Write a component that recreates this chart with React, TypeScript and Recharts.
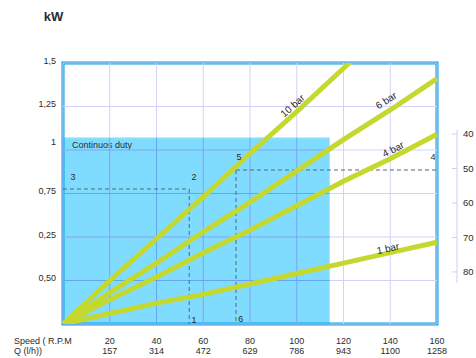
import {
  LineChart,
  Line,
  XAxis,
  YAxis,
  ReferenceArea,
  ReferenceLine,
  ReferenceDot,
  Label,
} from "recharts";

// pump speed (rpm) and the matching flow rate (l/h)
const rpm = [0, 20, 40, 60, 80, 100, 120, 140, 160];
const flowLh = [0, 157, 314, 472, 629, 786, 943, 1100, 1258];

// absorbed power (kW) per discharge pressure
const kw10bar = [0, 0.25, 0.49, 0.73, 0.98, 1.22, 1.47, 1.72, 1.97];
const kw6bar = [0, 0.18, 0.35, 0.53, 0.7, 0.88, 1.06, 1.23, 1.41];
const kw4bar = [0, 0.14, 0.27, 0.41, 0.54, 0.68, 0.82, 0.95, 1.09];
const kw1bar = [0, 0.06, 0.12, 0.17, 0.23, 0.29, 0.35, 0.41, 0.47];

const kwTicks = [0, 0.25, 0.5, 0.75, 1, 1.25, 1.5];
const kwTickLabels = ["", "0,50", "0,25", "0,75", "1", "1,25", "1,5"];
const rpmTicks = [20, 40, 60, 80, 100, 120, 140, 160];
const rightTicks = [40, 50, 60, 70, 80];

// continuous duty limit and the two worked examples
const dutyLimit = { rpm: 114, kw: 1.07 };
const exampleA = { rpm: 54, kw: 0.776 };
const exampleB = { rpm: 74, kw: 0.885 };

const pointLabels = [
  { text: "3", rpm: 4.3, kw: 0.845 },
  { text: "2", rpm: 56, kw: 0.845 },
  { text: "1", rpm: 56, kw: 0.025 },
  { text: "5", rpm: 75.3, kw: 0.96 },
  { text: "4", rpm: 158.3, kw: 0.96 },
  { text: "6", rpm: 76, kw: 0.03 },
];

const seriesLabels = [
  { text: "10 bar", rpm: 98.2, kw: 1.255, angle: -42 },
  { text: "6 bar", rpm: 138.2, kw: 1.285, angle: -33 },
  { text: "4 bar", rpm: 141.2, kw: 1.005, angle: -27 },
  { text: "1 bar", rpm: 139, kw: 0.435, angle: -12 },
];

const data = rpm.map((r, i) => ({
  rpm: r,
  b10: kw10bar[i],
  b6: kw6bar[i],
  b4: kw4bar[i],
  b1: kw1bar[i],
}));

const TEXT = "#2b2b2b";
const GRID = "#d2d2fa";
const GRID_ON_DUTY = "#62a6f2";
const DUTY = "#80dcff";
const CURVE = "#c4d82e";
const DASH = "#55677a";

function LeftTick({ x, y, payload }: any) {
  const label = kwTickLabels[kwTicks.indexOf(payload.value)];
  const shift = payload.value === 1 ? -8 : -2.5;
  return (
    <text x={x} y={y + shift} dy="0.35em" textAnchor="end" fontSize={9} fill={TEXT}>
      {label}
    </text>
  );
}

function BottomTick({ x, y, payload }: any) {
  const q = flowLh[rpm.indexOf(payload.value)];
  return (
    <g fontSize={9} fill={TEXT} textAnchor="middle">
      <text x={x} y={y + 20}>{payload.value}</text>
      <text x={x} y={y + 30}>{q}</text>
    </g>
  );
}

function RightTick({ x, y, payload, index }: any) {
  const axisX = x + 20;
  const top = index === 0 ? y - 4 : y - 17.3;
  const bottom = index === rightTicks.length - 1 ? y + 11 : y + 17.3;
  return (
    <g>
      <line x1={axisX} x2={axisX} y1={top} y2={bottom} stroke="#cfcff3" />
      <line x1={axisX - 5} x2={axisX} y1={y} y2={y} stroke="#cfcff3" />
      <text x={axisX + 6} y={y} dy="0.35em" fontSize={9.5} fill={TEXT}>
        {payload.value}
      </text>
    </g>
  );
}

export default function App() {
  const gridX = [0, ...rpmTicks];
  return (
    <div
      style={{
        position: "absolute",
        left: 0,
        top: 0,
        width: 476,
        height: 358,
        background: "#fff",
        fontFamily: "'Liberation Sans', Arial, sans-serif",
      }}
    >
      <LineChart
        width={476}
        height={358}
        data={data}
        margin={{ top: 63, right: 0, bottom: 0, left: 0 }}
      >
        <XAxis
          dataKey="rpm"
          type="number"
          domain={[0, 160]}
          ticks={rpmTicks}
          height={34}
          axisLine={false}
          tickLine={false}
          tickSize={0}
          tickMargin={0}
          tick={<BottomTick />}
          interval={0}
        />
        <YAxis
          type="number"
          domain={[0, 1.5]}
          allowDataOverflow
          ticks={kwTicks}
          width={63}
          axisLine={false}
          tickLine={false}
          tickSize={0}
          tickMargin={7}
          tick={<LeftTick />}
          interval={0}
        />
        <YAxis
          yAxisId="right"
          orientation="right"
          type="number"
          domain={[19.4, 95.1]}
          reversed
          allowDataOverflow
          ticks={rightTicks}
          width={39}
          axisLine={false}
          tickLine={false}
          tickSize={0}
          tickMargin={0}
          tick={<RightTick />}
          interval={0}
        />

        <ReferenceArea
          x1={0}
          x2={dutyLimit.rpm}
          y1={0}
          y2={dutyLimit.kw}
          fill={DUTY}
          fillOpacity={1}
          stroke="#a6e8ff"
          strokeWidth={1}
        >
          <Label
            content={({ viewBox }: any) => (
              <text x={viewBox.x + 9} y={viewBox.y + 10.5} fontSize={9} fill={TEXT}>
                Continuos duty
              </text>
            )}
          />
        </ReferenceArea>

        {gridX.map((v) => (
          <ReferenceLine key={"gx" + v} x={v} stroke={GRID} strokeWidth={1} />
        ))}
        {kwTicks.map((v) => (
          <ReferenceLine key={"gy" + v} y={v} stroke={GRID} strokeWidth={1} />
        ))}
        {/* grid shows darker where it crosses the duty area */}
        {gridX
          .filter((v) => v < dutyLimit.rpm)
          .map((v) => (
            <ReferenceLine
              key={"dx" + v}
              segment={[
                { x: v, y: 0 },
                { x: v, y: dutyLimit.kw },
              ]}
              stroke={GRID_ON_DUTY}
              strokeWidth={1}
            />
          ))}
        {kwTicks
          .filter((v) => v < dutyLimit.kw)
          .map((v) => (
            <ReferenceLine
              key={"dy" + v}
              segment={[
                { x: 0, y: v },
                { x: dutyLimit.rpm, y: v },
              ]}
              stroke={GRID_ON_DUTY}
              strokeWidth={1}
            />
          ))}

        {[exampleA, exampleB].map((p, i) => (
          <ReferenceLine
            key={"hx" + i}
            segment={[
              { x: i === 0 ? 0 : p.rpm, y: p.kw },
              { x: i === 0 ? p.rpm : 160, y: p.kw },
            ]}
            stroke={DASH}
            strokeDasharray="4 3"
          />
        ))}
        {[exampleA, exampleB].map((p, i) => (
          <ReferenceLine
            key={"vx" + i}
            segment={[
              { x: p.rpm, y: p.kw },
              { x: p.rpm, y: 0 },
            ]}
            stroke={DASH}
            strokeDasharray="4 3"
          />
        ))}

        <Line type="linear" dataKey="b10" stroke={CURVE} strokeWidth={5} dot={false} activeDot={false} isAnimationActive={false} />
        <Line type="linear" dataKey="b6" stroke={CURVE} strokeWidth={5} dot={false} activeDot={false} isAnimationActive={false} />
        <Line type="linear" dataKey="b4" stroke={CURVE} strokeWidth={5} dot={false} activeDot={false} isAnimationActive={false} />
        <Line type="linear" dataKey="b1" stroke={CURVE} strokeWidth={5} dot={false} activeDot={false} isAnimationActive={false} />

        {pointLabels.map((p) => (
          <ReferenceDot key={"p" + p.text} x={p.rpm} y={p.kw} r={0} fill="none" stroke="none">
            <Label value={p.text} position="center" fontSize={9} fill={TEXT} />
          </ReferenceDot>
        ))}
        {seriesLabels.map((s) => (
          <ReferenceDot key={s.text} x={s.rpm} y={s.kw} r={0} fill="none" stroke="none">
            <Label value={s.text} position="center" angle={s.angle} fontSize={10} fill={TEXT} />
          </ReferenceDot>
        ))}

        <ReferenceArea
          x1={0}
          x2={160}
          y1={0}
          y2={1.5}
          fill="none"
          stroke="#0a9fe2"
          strokeWidth={3}
        />

        <text x={53.5} y={21} textAnchor="middle" fontWeight="bold" fontSize={13} fill={TEXT}>
          kW
        </text>
        <text x={14} y={344} fontSize={9} fill={TEXT}>
          Speed ( R.P.M
        </text>
        <text x={14} y={354} fontSize={9} fill={TEXT}>
          Q (l/h))
        </text>
      </LineChart>
    </div>
  );
}
